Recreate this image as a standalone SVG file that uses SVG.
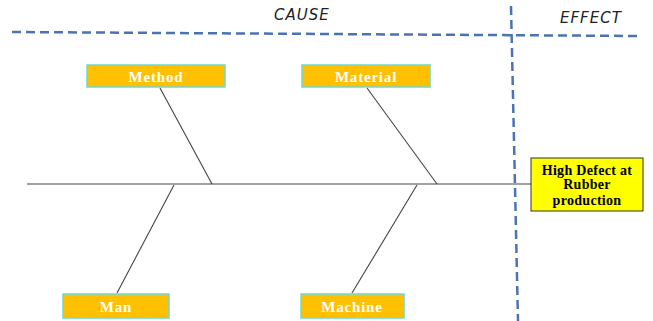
<svg xmlns="http://www.w3.org/2000/svg" width="653" height="321" viewBox="0 0 653 321">
<style>
.dash{stroke:#4a73b3;stroke-width:2.5;stroke-dasharray:9 5;fill:none}
.bone{stroke:#444;stroke-width:1.1;fill:none}
.cat rect{fill:#ffc000;stroke:#6fd8d0;stroke-width:1.5}
.cat text{font-family:"Liberation Serif",serif;font-weight:bold;font-size:15px;fill:#fff;text-anchor:middle;letter-spacing:0.8px}
.hand{font-family:"DejaVu Sans",sans-serif;font-style:italic;font-size:15px;fill:#222;letter-spacing:1px}
.eff text{font-family:"Liberation Serif",serif;font-weight:bold;font-size:14px;fill:#000;text-anchor:middle;letter-spacing:0.3px}
</style>
<g id="dividers">
<path class="dash" d="M12 32 L640 36"/>
<path class="dash" d="M511 6 L518 321"/>
</g>
<text class="hand" x="274" y="20">CAUSE</text>
<text class="hand" x="560" y="23">EFFECT</text>
<g id="connectors">
<path class="bone" d="M27 184 L531 184"/>
<path class="bone" d="M160 88 L212 184"/>
<path class="bone" d="M367 88 L437 184"/>
<path class="bone" d="M174 185 L117 293"/>
<path class="bone" d="M417 185 L352 293"/>
</g>
<g id="method" class="cat"><rect x="87" y="65" width="138" height="22"/><text x="156" y="81.5">Method</text></g>
<g id="material" class="cat"><rect x="302" y="65" width="128" height="22"/><text x="366" y="81.5">Material</text></g>
<g id="man" class="cat"><rect x="63" y="294" width="106" height="24"/><text x="116" y="311.5">Man</text></g>
<g id="machine" class="cat"><rect x="301" y="294" width="103" height="24"/><text x="352" y="311.5">Machine</text></g>
<g id="effect" class="eff"><rect x="531" y="158" width="112" height="53" fill="#ffff00" stroke="#333" stroke-width="1"/>
<text x="587" y="175">High Defect at</text><text x="587" y="189">Rubber</text><text x="587" y="204.5">production</text></g>
</svg>
